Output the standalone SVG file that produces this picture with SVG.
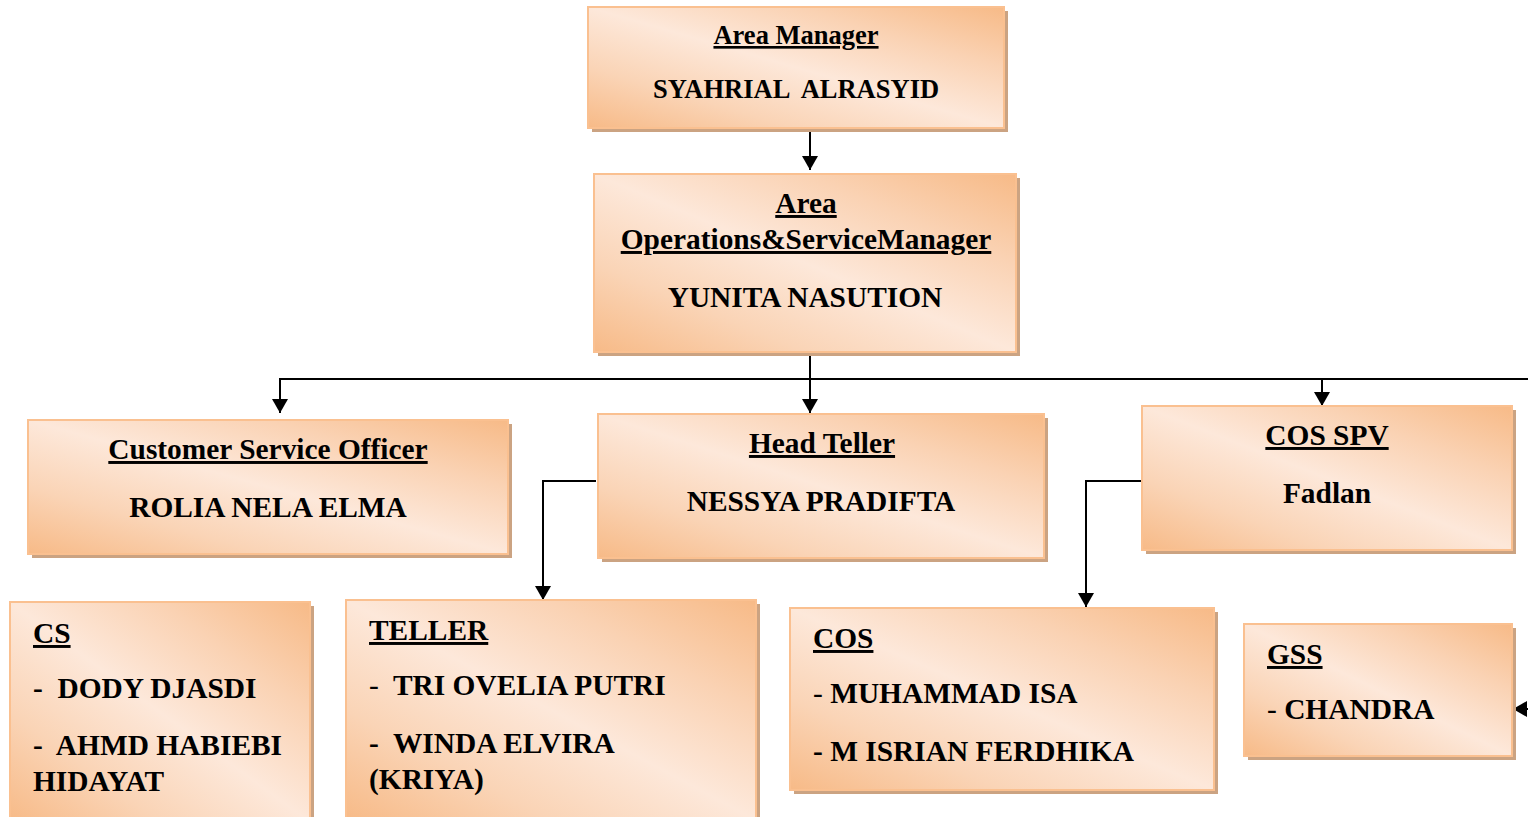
<svg xmlns="http://www.w3.org/2000/svg" width="1528" height="817" viewBox="0 0 1528 817">
<defs>
<linearGradient id="peach" x1="1" y1="0" x2="0" y2="1">
<stop offset="0" stop-color="#F7BA87"/>
<stop offset="0.25" stop-color="#FAD2B3"/>
<stop offset="0.5" stop-color="#FDE8DA"/>
<stop offset="0.75" stop-color="#FAD4B6"/>
<stop offset="1" stop-color="#F7BA87"/>
</linearGradient>
<marker id="arr" viewBox="0 0 14 16" refX="14" refY="8" markerWidth="14" markerHeight="16" markerUnits="userSpaceOnUse" orient="auto">
<path d="M0,0 L14,8 L0,16 Z" fill="#000"/>
</marker>
</defs>
<style>
.sh{fill:#CBA382}
.bx{fill:url(#peach);stroke:#FAC090;stroke-width:2}
text{font-family:"Liberation Serif","Times New Roman",serif;font-weight:bold;font-size:29.4px;fill:#000}
.sm{font-size:26.5px}
.c{text-anchor:middle}
.u{text-decoration:underline}
.n{font-weight:normal}
.ln{fill:none;stroke:#000;stroke-width:2}
</style>
<rect width="1528" height="817" fill="#fff"/>
<g id="connectors">
<path class="ln" d="M810,128 V170" marker-end="url(#arr)"/>
<path class="ln" d="M810,353 V413" marker-end="url(#arr)"/>
<path class="ln" d="M1528,379 H280 V413"/>
<path class="ln" d="M280,379 V413" marker-end="url(#arr)"/>
<path class="ln" d="M1322,379 V406" marker-end="url(#arr)"/>
<path class="ln" d="M596,481 H543 V600" marker-end="url(#arr)"/>
<path class="ln" d="M1142,481 H1086 V607" marker-end="url(#arr)"/>
<path class="ln" d="M1530,709 H1513" marker-end="url(#arr)"/>
</g>
<g id="area-manager">
<rect class="sh" x="592" y="11" width="416" height="121"/>
<rect class="bx" x="588" y="7" width="416" height="121"/>
<text class="c u sm" x="796" y="44">Area Manager</text>
<text class="c sm" x="796" y="98" xml:space="preserve">SYAHRIAL  ALRASYID</text>
</g>
<g id="area-ops-service-manager">
<rect class="sh" x="598" y="178" width="422" height="178"/>
<rect class="bx" x="594" y="174" width="422" height="178"/>
<text class="c u" x="806" y="213">Area</text>
<text class="c u" x="806" y="249">Operations&amp;ServiceManager</text>
<text class="c" x="805" y="307">YUNITA NASUTION</text>
</g>
<g id="customer-service-officer">
<rect class="sh" x="32" y="424" width="480" height="134"/>
<rect class="bx" x="28" y="420" width="480" height="134"/>
<text class="c u" x="268" y="459">Customer Service Officer</text>
<text class="c" x="268" y="517">ROLIA NELA ELMA</text>
</g>
<g id="head-teller">
<rect class="sh" x="602" y="418" width="446" height="144"/>
<rect class="bx" x="598" y="414" width="446" height="144"/>
<text class="c u" x="822" y="453">Head Teller</text>
<text class="c" x="821" y="511">NESSYA PRADIFTA</text>
</g>
<g id="cos-spv">
<rect class="sh" x="1146" y="410" width="370" height="144"/>
<rect class="bx" x="1142" y="406" width="370" height="144"/>
<text class="c u" x="1327" y="445">COS SPV</text>
<text class="c" x="1327" y="503">Fadlan</text>
</g>
<g id="cs">
<rect class="sh" x="14" y="606" width="300" height="220"/>
<rect class="bx" x="10" y="602" width="300" height="220"/>
<text class="u" x="33" y="643">CS</text>
<text x="33" y="698" xml:space="preserve">-  DODY DJASDI</text>
<text x="33" y="755" xml:space="preserve">-  AHMD HABIEBI</text>
<text x="33" y="791">HIDAYAT</text>
</g>
<g id="teller">
<rect class="sh" x="350" y="604" width="410" height="220"/>
<rect class="bx" x="346" y="600" width="410" height="220"/>
<text class="u" x="369" y="640">TELLER</text>
<text x="369" y="695" xml:space="preserve"><tspan class="n">-</tspan>  TRI OVELIA PUTRI</text>
<text x="369" y="753" xml:space="preserve">-  WINDA ELVIRA</text>
<text x="369" y="789">(KRIYA)</text>
</g>
<g id="cos">
<rect class="sh" x="794" y="612" width="424" height="182"/>
<rect class="bx" x="790" y="608" width="424" height="182"/>
<text class="u" x="813" y="648">COS</text>
<text x="813" y="703" xml:space="preserve"><tspan class="n">-</tspan> MUHAMMAD ISA</text>
<text x="813" y="761">- M ISRIAN FERDHIKA</text>
</g>
<g id="gss">
<rect class="sh" x="1248" y="628" width="268" height="132"/>
<rect class="bx" x="1244" y="624" width="268" height="132"/>
<text class="u" x="1267" y="664">GSS</text>
<text x="1267" y="719" xml:space="preserve"><tspan class="n">-</tspan> CHANDRA</text>
</g>
</svg>
